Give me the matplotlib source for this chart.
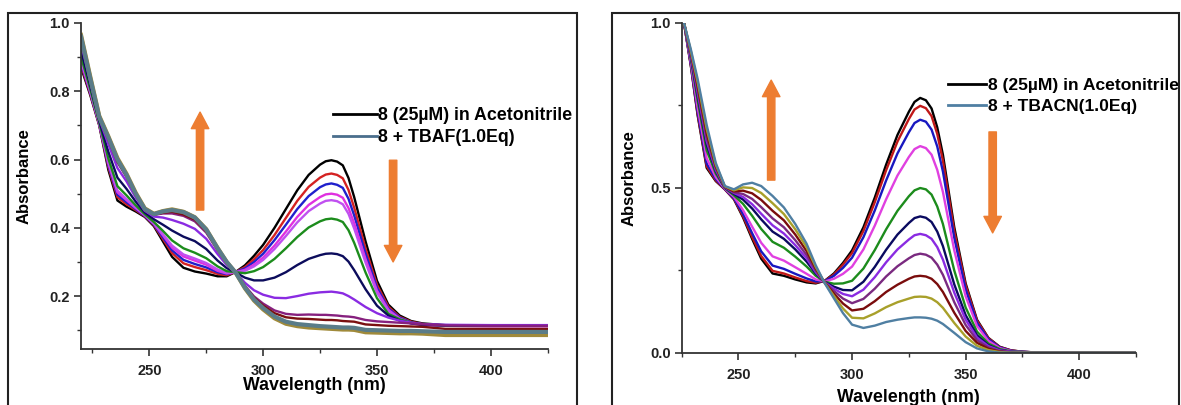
import matplotlib
matplotlib.use("Agg")
import matplotlib.pyplot as plt
from matplotlib.patches import Rectangle
from matplotlib.ticker import MultipleLocator

plt.rcParams['font.family'] = ['Liberation Sans', 'DejaVu Sans']
plt.rcParams['font.weight'] = 'bold'

# ---- panel 1 : 8 + TBAF titration ----
wl_f = [220, 224, 228, 232, 236, 240, 244, 248, 252, 256, 260, 265, 270, 275, 280, 284, 288, 292, 296,
        300, 305, 310, 315, 320, 325, 327.5, 330, 332.5, 335, 337.5, 340, 345, 350, 355, 360, 365, 370, 380, 400, 425]

f_black = [0.87, 0.79, 0.70, 0.57, 0.48, 0.462, 0.448, 0.432, 0.405, 0.36, 0.315, 0.283, 0.272, 0.266, 0.258, 0.258, 0.271, 0.29, 0.318,
           0.35, 0.40, 0.455, 0.51, 0.555, 0.585, 0.595, 0.598, 0.594, 0.583, 0.546, 0.49, 0.36, 0.245, 0.175, 0.143, 0.127, 0.12, 0.115, 0.113, 0.113]
f_red = [0.877, 0.794, 0.702, 0.578, 0.490, 0.469, 0.452, 0.434, 0.408, 0.367, 0.326, 0.296, 0.285, 0.276, 0.265, 0.261, 0.271, 0.285, 0.308,
         0.335, 0.379, 0.429, 0.479, 0.520, 0.547, 0.556, 0.559, 0.555, 0.545, 0.511, 0.459, 0.339, 0.233, 0.169, 0.139, 0.125, 0.118, 0.114, 0.113, 0.113]
f_blue = [0.883, 0.797, 0.704, 0.583, 0.497, 0.475, 0.455, 0.435, 0.410, 0.372, 0.334, 0.306, 0.294, 0.284, 0.270, 0.264, 0.271, 0.281, 0.300,
          0.324, 0.364, 0.409, 0.455, 0.493, 0.519, 0.527, 0.530, 0.526, 0.517, 0.485, 0.436, 0.324, 0.225, 0.164, 0.137, 0.123, 0.117, 0.114, 0.113, 0.113]
f_magenta = [0.888, 0.800, 0.705, 0.589, 0.504, 0.481, 0.458, 0.437, 0.412, 0.378, 0.342, 0.316, 0.304, 0.292, 0.274, 0.266, 0.270, 0.277, 0.292,
             0.313, 0.348, 0.389, 0.432, 0.467, 0.490, 0.498, 0.500, 0.497, 0.488, 0.458, 0.413, 0.308, 0.216, 0.160, 0.134, 0.121, 0.116, 0.113, 0.112, 0.112]
f_orchid = [0.892, 0.802, 0.706, 0.593, 0.509, 0.484, 0.460, 0.438, 0.413, 0.381, 0.348, 0.322, 0.310, 0.297, 0.278, 0.268, 0.270, 0.274, 0.287,
            0.306, 0.338, 0.376, 0.416, 0.449, 0.471, 0.479, 0.481, 0.478, 0.469, 0.441, 0.398, 0.298, 0.210, 0.157, 0.132, 0.120, 0.115, 0.113, 0.112, 0.112]
f_green = [0.902, 0.808, 0.709, 0.603, 0.522, 0.495, 0.466, 0.440, 0.417, 0.391, 0.363, 0.340, 0.327, 0.311, 0.287, 0.273, 0.270, 0.267, 0.273,
           0.285, 0.309, 0.340, 0.373, 0.401, 0.419, 0.425, 0.427, 0.424, 0.417, 0.393, 0.356, 0.269, 0.194, 0.148, 0.132, 0.122, 0.117, 0.114, 0.113, 0.113]
f_navy = [0.920, 0.818, 0.714, 0.623, 0.547, 0.514, 0.477, 0.445, 0.425, 0.409, 0.392, 0.374, 0.361, 0.338, 0.304, 0.282, 0.269, 0.254, 0.246,
          0.246, 0.254, 0.270, 0.291, 0.309, 0.320, 0.324, 0.325, 0.323, 0.317, 0.301, 0.276, 0.220, 0.172, 0.143, 0.128, 0.120, 0.116, 0.114, 0.114, 0.114]
f_violet = [0.941, 0.830, 0.720, 0.645, 0.575, 0.536, 0.489, 0.450, 0.433, 0.430, 0.423, 0.412, 0.397, 0.368, 0.323, 0.291, 0.269, 0.239, 0.217,
            0.204, 0.195, 0.194, 0.200, 0.207, 0.211, 0.212, 0.213, 0.211, 0.208, 0.200, 0.190, 0.168, 0.150, 0.137, 0.128, 0.122, 0.118, 0.116, 0.115, 0.115]
f_purple = [0.954, 0.837, 0.723, 0.658, 0.592, 0.549, 0.496, 0.453, 0.438, 0.442, 0.442, 0.435, 0.419, 0.386, 0.334, 0.297, 0.268, 0.230, 0.199,
            0.178, 0.158, 0.148, 0.145, 0.146, 0.145, 0.145, 0.144, 0.143, 0.141, 0.140, 0.138, 0.130, 0.126, 0.124, 0.122, 0.120, 0.118, 0.114, 0.113, 0.113]
f_maroon = [0.957, 0.838, 0.724, 0.661, 0.595, 0.551, 0.498, 0.454, 0.439, 0.444, 0.447, 0.439, 0.424, 0.390, 0.337, 0.298, 0.268, 0.228, 0.195,
            0.172, 0.150, 0.138, 0.134, 0.133, 0.131, 0.130, 0.130, 0.129, 0.127, 0.126, 0.125, 0.117, 0.115, 0.113, 0.112, 0.111, 0.110, 0.104, 0.104, 0.104]
f_olive = [0.965, 0.845, 0.728, 0.668, 0.604, 0.558, 0.503, 0.457, 0.441, 0.449, 0.454, 0.447, 0.431, 0.396, 0.341, 0.300, 0.268, 0.223, 0.187,
           0.161, 0.135, 0.119, 0.112, 0.108, 0.106, 0.105, 0.104, 0.103, 0.102, 0.102, 0.101, 0.094, 0.093, 0.092, 0.091, 0.091, 0.090, 0.086, 0.086, 0.086]
f_final = [0.96, 0.84, 0.725, 0.665, 0.60, 0.555, 0.50, 0.455, 0.44, 0.448, 0.452, 0.446, 0.43, 0.395, 0.34, 0.30, 0.268, 0.225, 0.19,
           0.165, 0.14, 0.125, 0.118, 0.115, 0.112, 0.111, 0.11, 0.109, 0.108, 0.108, 0.107, 0.101, 0.10, 0.099, 0.098, 0.098, 0.097, 0.095, 0.095, 0.095]

tbaf_curves = [f_black, f_red, f_blue, f_magenta, f_orchid, f_green, f_navy, f_violet, f_purple, f_maroon, f_olive, f_final]
tbaf_colors = ['#000000', '#d42222', '#2020cc', '#e030e0', '#c050f0', '#1c8c1c', '#0c0c5c', '#8a2be2', '#86207e', '#7a1010', '#a08a3a', '#5a7c88']

# ---- panel 2 : 8 + TBACN titration ----
wl_c = [226, 229, 232, 236, 240, 244, 248, 252, 256, 260, 265, 270, 275, 280, 284, 288, 292, 296, 300,
        305, 310, 315, 320, 325, 327.5, 330, 332.5, 335, 337.5, 340, 345, 350, 355, 360, 365, 370, 375, 380, 400, 425]

c_black = [1.0, 0.87, 0.72, 0.56, 0.52, 0.495, 0.465, 0.41, 0.345, 0.285, 0.24, 0.233, 0.222, 0.213, 0.21, 0.218, 0.24, 0.272, 0.31,
           0.38, 0.47, 0.57, 0.66, 0.73, 0.760, 0.772, 0.765, 0.74, 0.683, 0.60, 0.38, 0.21, 0.10, 0.045, 0.018, 0.007, 0.003, 0.001, 0.0, 0.0]
c_red = [1.0, 0.872, 0.724, 0.565, 0.522, 0.495, 0.466, 0.414, 0.351, 0.293, 0.248, 0.240, 0.228, 0.217, 0.212, 0.218, 0.237, 0.267, 0.302,
         0.369, 0.456, 0.553, 0.640, 0.708, 0.737, 0.748, 0.741, 0.717, 0.663, 0.582, 0.368, 0.204, 0.097, 0.044, 0.017, 0.007, 0.003, 0.001, 0.0, 0.0]
c_blue = [1.0, 0.875, 0.731, 0.573, 0.526, 0.496, 0.468, 0.420, 0.362, 0.307, 0.264, 0.254, 0.239, 0.225, 0.216, 0.217, 0.233, 0.257, 0.288,
          0.350, 0.431, 0.522, 0.604, 0.668, 0.696, 0.706, 0.700, 0.676, 0.625, 0.549, 0.348, 0.192, 0.091, 0.041, 0.016, 0.006, 0.003, 0.001, 0.0, 0.0]
c_magenta = [1.0, 0.881, 0.744, 0.589, 0.532, 0.497, 0.472, 0.432, 0.382, 0.333, 0.292, 0.279, 0.259, 0.239, 0.222, 0.216, 0.224, 0.239, 0.261,
             0.313, 0.385, 0.465, 0.537, 0.593, 0.617, 0.626, 0.620, 0.600, 0.554, 0.487, 0.310, 0.171, 0.081, 0.036, 0.014, 0.005, 0.002, 0.001, 0.0, 0.0]
c_green = [1.0, 0.891, 0.765, 0.613, 0.543, 0.499, 0.477, 0.451, 0.415, 0.375, 0.336, 0.318, 0.291, 0.261, 0.233, 0.215, 0.209, 0.210, 0.218,
           0.255, 0.311, 0.374, 0.430, 0.474, 0.492, 0.499, 0.495, 0.479, 0.443, 0.390, 0.249, 0.137, 0.064, 0.028, 0.011, 0.004, 0.002, 0.0, 0.0, 0.0]
c_navy = [1.0, 0.897, 0.779, 0.630, 0.550, 0.500, 0.481, 0.464, 0.437, 0.404, 0.367, 0.345, 0.313, 0.276, 0.240, 0.214, 0.200, 0.190, 0.189,
          0.215, 0.260, 0.312, 0.358, 0.393, 0.408, 0.413, 0.409, 0.396, 0.367, 0.323, 0.207, 0.114, 0.053, 0.023, 0.008, 0.003, 0.001, 0.0, 0.0, 0.0]
c_violet = [1.0, 0.901, 0.788, 0.641, 0.554, 0.501, 0.484, 0.472, 0.450, 0.421, 0.386, 0.361, 0.326, 0.286, 0.244, 0.213, 0.194, 0.178, 0.171,
            0.191, 0.229, 0.274, 0.313, 0.343, 0.356, 0.360, 0.356, 0.345, 0.320, 0.282, 0.182, 0.100, 0.046, 0.020, 0.007, 0.003, 0.001, 0.0, 0.0, 0.0]
c_purple = [1.0, 0.906, 0.798, 0.652, 0.559, 0.502, 0.486, 0.481, 0.466, 0.441, 0.407, 0.380, 0.341, 0.296, 0.249, 0.212, 0.187, 0.164, 0.150,
            0.163, 0.194, 0.231, 0.262, 0.286, 0.296, 0.300, 0.297, 0.288, 0.267, 0.236, 0.153, 0.084, 0.038, 0.016, 0.005, 0.002, 0.001, 0.0, 0.0, 0.0]
c_maroon = [1.0, 0.911, 0.809, 0.665, 0.565, 0.503, 0.489, 0.491, 0.483, 0.463, 0.430, 0.401, 0.358, 0.308, 0.255, 0.212, 0.179, 0.149, 0.128,
            0.133, 0.156, 0.184, 0.206, 0.224, 0.231, 0.233, 0.231, 0.224, 0.208, 0.184, 0.121, 0.066, 0.030, 0.012, 0.003, 0.001, 0.0, 0.0, 0.0, 0.0]
c_olive = [1.0, 0.915, 0.820, 0.678, 0.570, 0.504, 0.492, 0.501, 0.499, 0.484, 0.453, 0.420, 0.374, 0.319, 0.260, 0.211, 0.172, 0.134, 0.106,
           0.104, 0.119, 0.138, 0.153, 0.164, 0.169, 0.170, 0.169, 0.164, 0.153, 0.136, 0.090, 0.049, 0.021, 0.008, 0.002, 0.0, 0.0, 0.0, 0.0, 0.0]
c_final = [1.0, 0.92, 0.83, 0.69, 0.575, 0.505, 0.495, 0.51, 0.515, 0.505, 0.475, 0.44, 0.39, 0.33, 0.265, 0.21, 0.165, 0.12, 0.085,
           0.075, 0.082, 0.093, 0.10, 0.105, 0.107, 0.107, 0.106, 0.103, 0.097, 0.087, 0.06, 0.032, 0.013, 0.004, 0.0, 0.0, 0.0, 0.0, 0.0, 0.0]

tbacn_curves = [c_black, c_red, c_blue, c_magenta, c_green, c_navy, c_violet, c_purple, c_maroon, c_olive, c_final]
tbacn_colors = ['#000000', '#c01818', '#1818c0', '#e040e0', '#1c8c1c', '#0a0a60', '#8a2be2', '#7a2a80', '#7a0c0c', '#a8a02a', '#4f7fa2']

legend_tbaf = ['8 (25\u00b5M) in Acetonitrile', '8 + TBAF(1.0Eq)']
legend_tbacn = ['8 (25\u00b5M) in Acetonitrile', '8 + TBACN(1.0Eq)']

arrow_col = '#ed7d31'
arrow_style = 'simple,head_width=0.9,head_length=0.85,tail_width=0.38'

fig = plt.figure(figsize=(11.81, 4.05), dpi=100)

# panel frames
for x0, w in [(8, 569), (612, 567)]:
    fig.patches.append(Rectangle((x0 / 1181, -0.2), w / 1181, 0.2 + 1 - 13 / 405, transform=fig.transFigure,
                                 fill=False, lw=1.5, ec='#222222'))

ax1 = fig.add_axes([81 / 1181, 1 - 349 / 405, 466.7 / 1181, 326 / 405])
ax2 = fig.add_axes([681.7 / 1181, 1 - 352.7 / 405, 454.3 / 1181, 330 / 405])


def style(ax):
    for s in ['top', 'right']:
        ax.spines[s].set_visible(False)
    for s in ['left', 'bottom']:
        ax.spines[s].set_linewidth(1.3)
        ax.spines[s].set_color('#333333')
    ax.tick_params(which='major', direction='out', length=5, width=1.1, labelsize=10.5, pad=3, colors='#222222')
    ax.tick_params(which='minor', direction='out', length=3, width=1.0, colors='#333333')
    ax.tick_params(axis='x', which='major', pad=6)
    ax.xaxis.set_major_locator(MultipleLocator(50))
    ax.xaxis.set_minor_locator(MultipleLocator(25))
    ax.set_xlabel('Wavelength (nm)', fontsize=12.8, fontweight='bold')
    ax.set_ylabel('Absorbance', fontsize=12, fontweight='bold')


def add_arrow(ax, x, y_from, y_to):
    ax.annotate('', xy=(x, y_to), xytext=(x, y_from),
                arrowprops=dict(arrowstyle=arrow_style, color=arrow_col, mutation_scale=14, shrinkA=0, shrinkB=0))


# left panel
for ys, c in zip(tbaf_curves, tbaf_colors):
    lw = 3.0 if c in ('#5a7c88', '#a08a3a') else 1.7
    ax1.plot(wl_f, ys, color=c, lw=lw, solid_joinstyle='round')
ax1.set_xlim(220, 425)
ax1.set_ylim(0.045, 1.0)
ax1.yaxis.set_minor_locator(MultipleLocator(0.1))
ax1.set_yticks([0.2, 0.4, 0.6, 0.8, 1.0])
ax1.set_yticklabels(['0.2', '0.4', '0.6', '0.8', '1.0'])
style(ax1)
ax1.xaxis.set_label_coords(0.5, -0.085)
ax1.yaxis.set_label_coords(-0.105, 0.53)
h1 = [plt.Line2D([], [], color='#000000', lw=2), plt.Line2D([], [], color='#4a6e8c', lw=2)]
ax1.legend(h1, legend_tbaf, loc='upper left', bbox_to_anchor=(0.54, 0.742), frameon=False, borderpad=0,
           borderaxespad=0, handlelength=2.45, handletextpad=0.1, labelspacing=0.3,
           prop={'size': 12.8, 'weight': 'bold'})
add_arrow(ax1, 272.3, 0.452, 0.739)
add_arrow(ax1, 357.1, 0.598, 0.30)

# right panel
for ys, c in zip(tbacn_curves, tbacn_colors):
    ax2.plot(wl_c, ys, color=c, lw=1.7, solid_joinstyle='round')
ax2.set_xlim(225, 425)
ax2.set_ylim(0, 1.0)
ax2.yaxis.set_major_locator(MultipleLocator(0.5))
ax2.yaxis.set_minor_locator(MultipleLocator(0.25))
style(ax2)
ax2.xaxis.set_label_coords(0.5, -0.11)
ax2.yaxis.set_label_coords(-0.10, 0.53)
h2 = [plt.Line2D([], [], color='#000000', lw=2), plt.Line2D([], [], color='#4f7fa2', lw=2)]
ax2.legend(h2, legend_tbacn, loc='upper left', bbox_to_anchor=(0.586, 0.832), frameon=False, borderpad=0,
           borderaxespad=0, handlelength=2.2, handletextpad=0.1, labelspacing=0.3,
           prop={'size': 12.6, 'weight': 'bold'})
add_arrow(ax2, 264.4, 0.523, 0.826)
add_arrow(ax2, 361.9, 0.669, 0.363)

fig.savefig('out.png', dpi=100)
